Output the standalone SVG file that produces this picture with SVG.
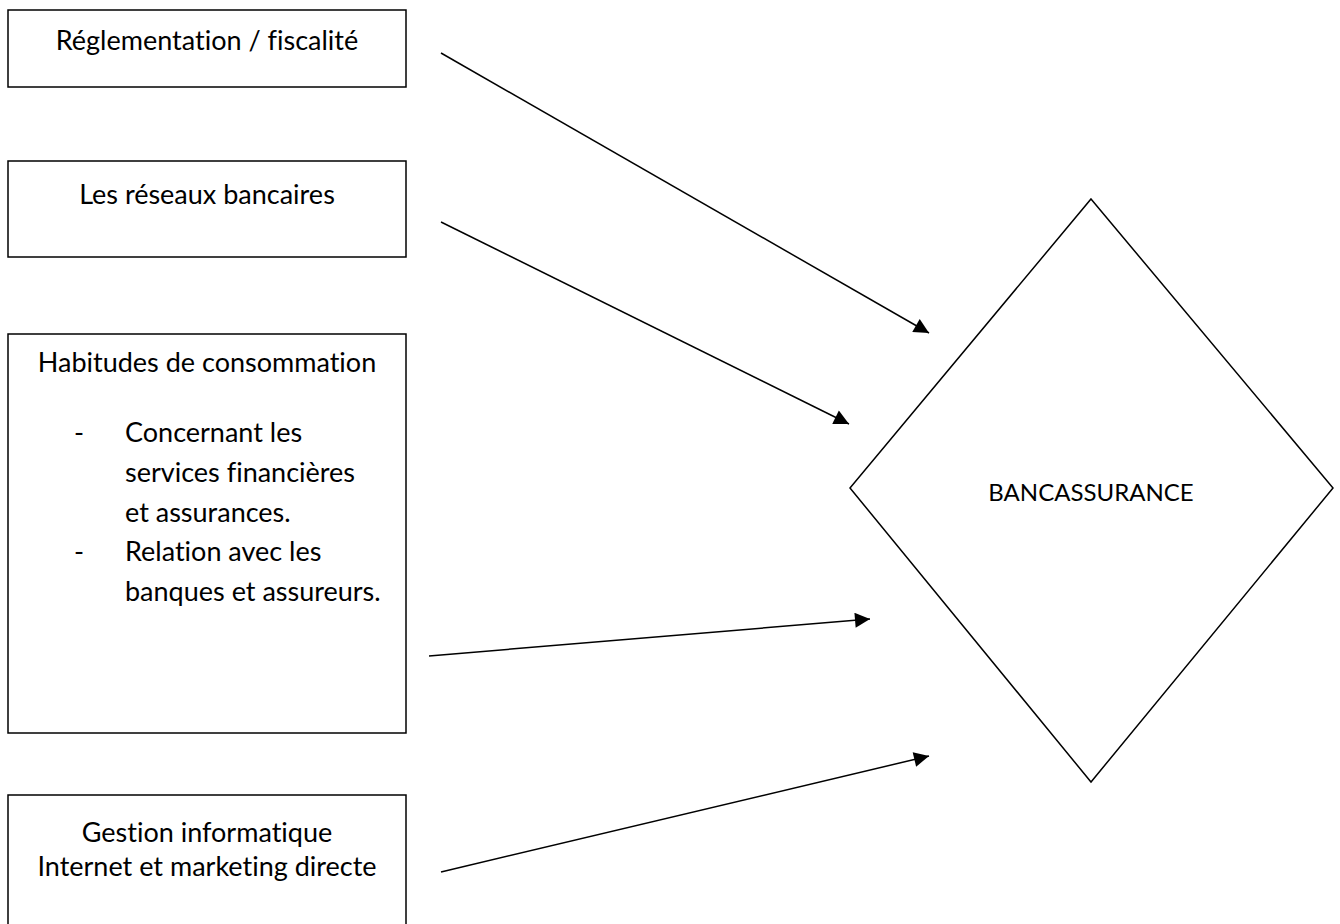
<svg xmlns="http://www.w3.org/2000/svg" width="1340" height="924" viewBox="0 0 1340 924">
  <style>
    .box { fill: #fff; stroke: #000; stroke-width: 1.5; }
    .lbl { font-family: Lato, "Liberation Sans", sans-serif; font-size: 27px; fill: #000; font-variant-ligatures: none; font-feature-settings: "liga" 0, "clig" 0; }
    .mid { text-anchor: middle; }
    .edge { stroke: #000; stroke-width: 1.5; fill: none; marker-end: url(#arrow); }
  </style>
  <defs>
    <marker id="arrow" viewBox="0 0 10 10" refX="10" refY="5" markerUnits="userSpaceOnUse" markerWidth="18" markerHeight="15" orient="auto">
      <path d="M0,0 L10,5 L0,10 z" fill="#000"/>
    </marker>
  </defs>

  <g id="node-reglementation">
    <rect class="box" x="8" y="10" width="398" height="77"/>
    <text class="lbl mid" x="207" y="50">Réglementation / fiscalité</text>
  </g>

  <g id="node-reseaux">
    <rect class="box" x="8" y="161" width="398" height="96"/>
    <text class="lbl mid" x="207" y="204">Les réseaux bancaires</text>
  </g>

  <g id="node-habitudes">
    <rect class="box" x="8" y="334" width="398" height="399"/>
    <text class="lbl mid" x="207" y="372">Habitudes de consommation</text>
    <text class="lbl" x="74" y="442">-</text>
    <text class="lbl" x="125" y="442">Concernant les</text>
    <text class="lbl" x="125" y="482">services financières</text>
    <text class="lbl" x="125" y="522">et assurances.</text>
    <text class="lbl" x="74" y="561">-</text>
    <text class="lbl" x="125" y="561">Relation avec les</text>
    <text class="lbl" x="125" y="601">banques et assureurs.</text>
  </g>

  <g id="node-gestion">
    <rect class="box" x="8" y="795" width="398" height="140"/>
    <text class="lbl mid" x="207" y="842">Gestion informatique</text>
    <text class="lbl mid" x="207" y="876">Internet et marketing directe</text>
  </g>

  <g id="node-bancassurance">
    <polygon class="box" points="1091,199 1333,488 1091,782 850,488"/>
    <text class="lbl mid" x="1091" y="501" style="font-size:24px">BANCASSURANCE</text>
  </g>

  <g id="connectors">
    <line class="edge" x1="441" y1="53" x2="929" y2="333"/>
    <line class="edge" x1="441" y1="222" x2="849" y2="424"/>
    <line class="edge" x1="429" y1="656" x2="870" y2="619"/>
    <line class="edge" x1="441" y1="872" x2="929" y2="756"/>
  </g>
</svg>
